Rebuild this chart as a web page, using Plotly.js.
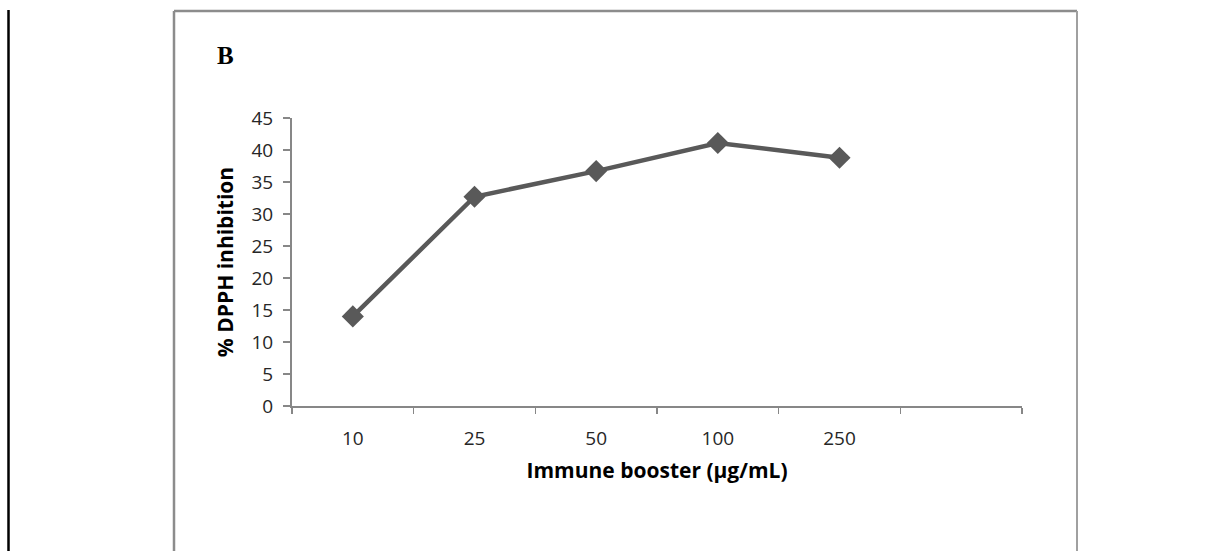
<!DOCTYPE html>
<html>
<head>
<meta charset="utf-8">
<script src="https://cdn.plot.ly/plotly-3.0.1.min.js"></script>
<style>
  html, body { margin: 0; padding: 0; background: #ffffff; }
  #chart { width: 1228px; height: 551px; }
</style>
</head>
<body>
<div id="chart"></div>
<script>
// ---- data ----
const categories = ['10', '25', '50', '100', '250'];
const inhibition = [14.0, 32.7, 36.7, 41.1, 38.8];
const panelLabel = 'B';
const xTitle = 'Immune booster (µg/mL)';
const yTitle = '% DPPH inhibition';

// ---- layout geometry (pixels) ----
const W = 1228, H = 551;
const L = 292, R = 1022, T = 118, B = 406;
const pw = R - L, ph = B - T;
const px = v => (v - L) / pw;
const py = v => (B - v) / ph;

const lineColor = '#595959';
const axisColor = '#878787';
const font = '"Open Sans", "Liberation Sans", sans-serif';

const trace = {
  type: 'scatter',
  mode: 'lines+markers',
  x: categories,
  y: inhibition,
  line: { color: lineColor, width: 4.5 },
  marker: { symbol: 'diamond', size: 17, color: lineColor },
  cliponaxis: false,
  hoverinfo: 'x+y'
};

const layout = {
  width: W, height: H,
  margin: { l: L, r: W - R, t: T, b: H - B, pad: 0 },
  paper_bgcolor: '#ffffff',
  plot_bgcolor: '#ffffff',
  showlegend: false,
  font: { family: font, size: 19, color: '#262626' },
  xaxis: {
    type: 'category',
    categoryorder: 'array',
    categoryarray: categories.concat([' ']),
    range: [-0.5, categories.length + 0.5],
    tickson: 'boundaries',
    ticks: 'outside',
    ticklen: 6,
    tickwidth: 1.5,
    tickcolor: axisColor,
    showline: true,
    linecolor: axisColor,
    linewidth: 2,
    showgrid: false,
    zeroline: false,
    ticklabelstandoff: 14,
    tickfont: { family: font, size: 19, color: '#262626' },
    title: { text: xTitle, font: { family: font, size: 21, color: '#000000', weight: 'bold' }, standoff: 14 },
    fixedrange: true
  },
  yaxis: {
    range: [0, 45],
    dtick: 5,
    ticks: 'outside',
    ticklen: 7,
    tickwidth: 1.5,
    tickcolor: axisColor,
    showline: true,
    linecolor: axisColor,
    linewidth: 2,
    showgrid: false,
    zeroline: false,
    ticklabelstandoff: 6,
    tickfont: { family: font, size: 19, color: '#262626' },
    title: { text: yTitle, font: { family: font, size: 21, color: '#000000', weight: 'bold' }, standoff: 12 },
    fixedrange: true
  },
  shapes: [
    // outer chart frame (open at bottom)
    { type: 'line', xref: 'paper', yref: 'paper', x0: px(174), x1: px(174), y0: py(11), y1: py(560), line: { color: '#8c8c8c', width: 2.5 } },
    { type: 'line', xref: 'paper', yref: 'paper', x0: px(174), x1: px(1077), y0: py(11), y1: py(11), line: { color: '#8c8c8c', width: 2.5 } },
    { type: 'line', xref: 'paper', yref: 'paper', x0: px(1077), x1: px(1077), y0: py(11), y1: py(560), line: { color: '#a0a0a0', width: 2 } },
    // black page line at the left
    { type: 'line', xref: 'paper', yref: 'paper', x0: px(8.5), x1: px(8.5), y0: py(10), y1: py(560), line: { color: '#000000', width: 2.5 } }
  ],
  annotations: [
    {
      text: panelLabel,
      xref: 'paper', yref: 'paper',
      x: px(225), y: py(55),
      xanchor: 'center', yanchor: 'middle',
      showarrow: false,
      font: { family: '"Liberation Serif", "DejaVu Serif", serif', size: 25, color: '#000000', weight: 'bold' }
    }
  ]
};

Plotly.newPlot('chart', [trace], layout, { displayModeBar: false, staticPlot: true });
</script>
</body>
</html>
